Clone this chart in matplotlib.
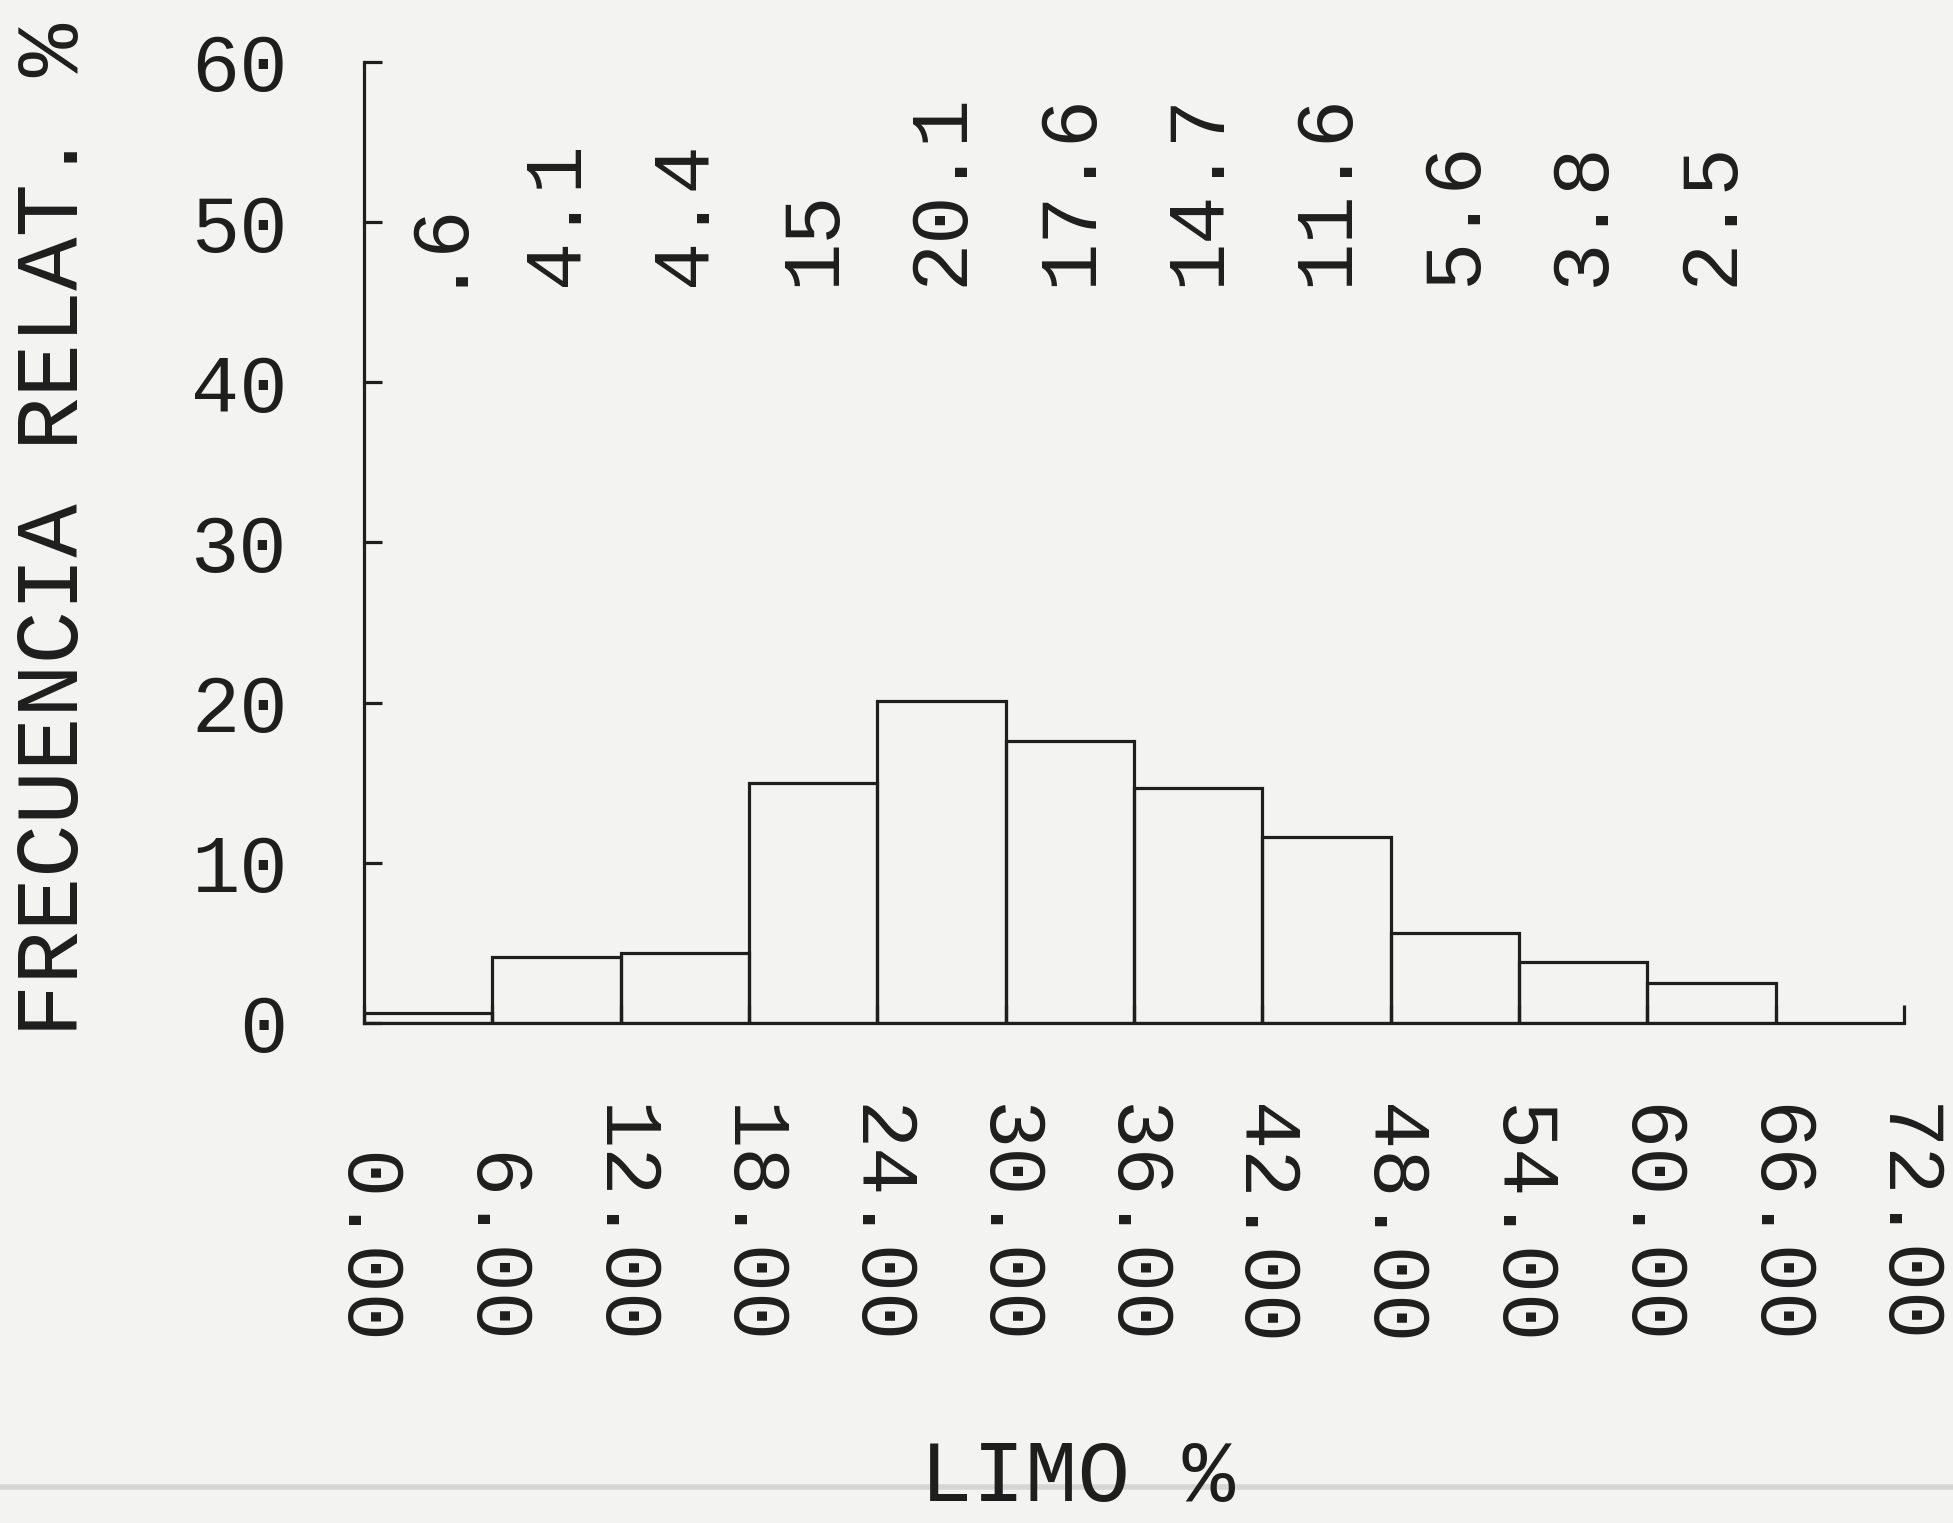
import matplotlib
matplotlib.use('Agg')
import matplotlib.pyplot as plt
from matplotlib.lines import Line2D
import numpy as np

# histogram of LIMO % (relative frequency per 6-unit class)
class_edges = [0, 6, 12, 18, 24, 30, 36, 42, 48, 54, 60, 66]
freq = [0.6, 4.1, 4.4, 15, 20.1, 17.6, 14.7, 11.6, 5.6, 3.8, 2.5]
x_ticks = [0, 6, 12, 18, 24, 30, 36, 42, 48, 54, 60, 66, 72]
y_ticks = [0, 10, 20, 30, 40, 50, 60]
x_title = 'LIMO %'
y_title = 'FRECUENCIA RELAT. %'

ink = '#1e1e1e'
paper = '#f3f3f1'
lw = 2.3
fsize = 58

plt.rcParams['font.family'] = ['Liberation Mono', 'DejaVu Sans Mono']
plt.rcParams['font.size'] = fsize


def basic_fmt(v):
    # old BASIC style: no leading zero, no trailing .0
    s = f"{v:g}"
    if s.startswith('0.'):
        s = s[1:]
    return s


fig = plt.figure(figsize=(19.53, 15.23), dpi=100, facecolor=paper)
ax = fig.add_axes([0.1864, 0.3283, 0.7885, 0.631])
ax.set_facecolor(paper)

widths = np.diff(class_edges)
lefts = np.array(class_edges[:-1])
ax.bar(lefts, freq, width=widths, align='edge', fill=False,
       edgecolor=ink, linewidth=lw)

centers = lefts + widths / 2
for xc, v in zip(centers, freq):
    ax.text(xc, 46, basic_fmt(v), rotation=90, ha='center', va='bottom',
            color=ink, fontsize=fsize)

ax.set_xlim(x_ticks[0], x_ticks[-1])
ax.set_ylim(y_ticks[0], y_ticks[-1])
for side in ['top', 'right']:
    ax.spines[side].set_visible(False)
for side in ['left', 'bottom']:
    ax.spines[side].set_linewidth(lw)
    ax.spines[side].set_color(ink)

ax.set_xticks(x_ticks, [f"{e:.2f}" for e in x_ticks], rotation=-90, va='bottom')
ax.set_yticks(y_ticks, [str(t) for t in y_ticks])
ax.tick_params(axis='x', direction='in', length=13, width=lw, color=ink,
               labelcolor=ink, pad=232)
ax.tick_params(axis='y', direction='in', length=13, width=lw, color=ink,
               labelcolor=ink, pad=55)

ax.set_ylabel(y_title, color=ink, va='center', fontsize=64)
ax.yaxis.set_label_coords(-0.2006, 0.513)
ax.set_xlabel(x_title, color=ink, va='center', fontsize=63)
ax.xaxis.set_label_coords(0.463, -0.4735)

# faint scanner line across the sheet
fig.add_artist(Line2D([0, 1], [0.0236, 0.0236], transform=fig.transFigure,
                      color='#d6d6d6', linewidth=4, zorder=0))

plt.savefig('out.png', dpi=100, facecolor=paper)
plt.close()
